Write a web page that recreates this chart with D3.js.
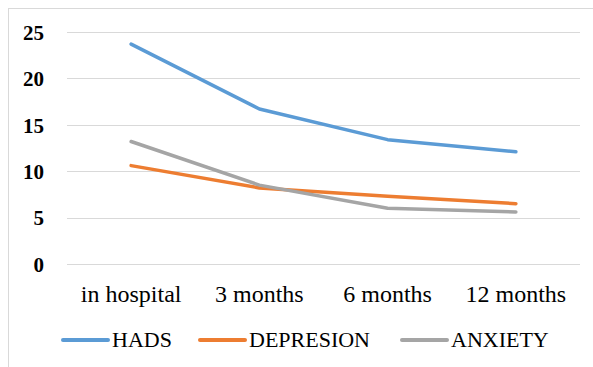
<!DOCTYPE html>
<html><head><meta charset="utf-8">
<script src="https://cdn.jsdelivr.net/npm/d3@7"></script>
<style>html,body{margin:0;padding:0;background:#fff;}svg{display:block;}
svg text{font-family:"Liberation Serif","Times New Roman",serif;}</style>
</head><body>
<script>
const categories = ["in hospital", "3 months", "6 months", "12 months"];
const seriesNames = ["HADS", "DEPRESION", "ANXIETY"];
const hads = [23.7, 16.7, 13.4, 12.1];
const depresion = [10.6, 8.2, 7.3, 6.5];
const anxiety = [13.2, 8.5, 6.0, 5.6];
const yTicks = [0, 5, 10, 15, 20, 25];
const colors = ["#5B9BD5", "#ED7D31", "#A5A5A5"];

const W = 593, H = 367;
const svg = d3.select("body").append("svg").attr("width", W).attr("height", H);
svg.append("rect").attr("x", 8.5).attr("y", 8.5).attr("width", 700).attr("height", 500)
  .attr("fill", "#fff").attr("stroke", "#d9d9d9").attr("stroke-width", 1);

const x = d3.scaleBand().domain(categories).range([67, 580]);
const y = d3.scaleLinear().domain([0, 25]).range([264, 32]);

// grid
svg.append("g").selectAll("line").data(yTicks).join("line")
  .attr("x1", 67).attr("x2", 580)
  .attr("y1", d => Math.round(y(d)) + 0.5).attr("y2", d => Math.round(y(d)) + 0.5)
  .attr("stroke", "#d9d9d9").attr("stroke-width", 1);

// y axis
const yAxis = svg.append("g").attr("transform", "translate(44,0)")
  .call(d3.axisLeft(y).tickValues(yTicks).tickSize(0).tickPadding(0));
yAxis.attr("font-family", null);
yAxis.select(".domain").remove();
yAxis.selectAll("text")
  .style("font-size", "21px").style("font-weight", "bold").attr("fill", "#000").attr("dy", "0.35em");

// x axis
const xAxis = svg.append("g").attr("transform", "translate(0,264)")
  .call(d3.axisBottom(x).tickSize(0).tickPadding(0));
xAxis.attr("font-family", null);
xAxis.select(".domain").remove();
xAxis.selectAll("text")
  .style("font-size", "24px").attr("fill", "#000").attr("y", 38).attr("dy", 0);

const data = [hads, depresion, anxiety];
const line = d3.line().x((d, i) => x(categories[i]) + x.bandwidth() / 2).y(d => y(d));
svg.append("g").selectAll("path").data(data).join("path")
  .attr("d", line).attr("fill", "none")
  .attr("stroke", (d, i) => colors[i]).attr("stroke-width", 3.5)
  .attr("stroke-linecap", "round").attr("stroke-linejoin", "round");

// legend
const legendX = [63, 200, 402];
const lg = svg.append("g").selectAll("g").data(seriesNames).join("g")
  .attr("transform", (d, i) => `translate(${legendX[i]},340)`);
lg.append("line").attr("x1", 0).attr("x2", 45).attr("y1", 0).attr("y2", 0)
  .attr("stroke", (d, i) => colors[i]).attr("stroke-width", 4).attr("stroke-linecap", "round");
lg.append("text").attr("x", 49).attr("y", 7).text(d => d)
  .style("font-size", "22px").attr("fill", "#000");
</script>
</body></html>
